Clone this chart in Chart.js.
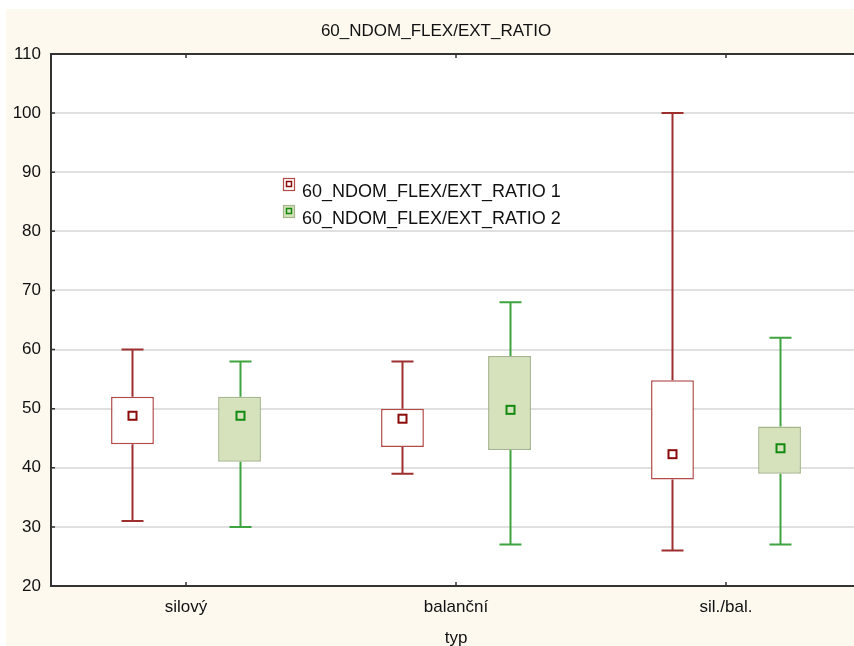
<!DOCTYPE html>
<html>
<head>
<meta charset="utf-8">
<title>60_NDOM_FLEX/EXT_RATIO</title>
<script src="https://cdn.jsdelivr.net/npm/chart.js@4.4.1/dist/chart.umd.min.js"></script>
<style>
  html, body { margin: 0; padding: 0; background: #ffffff; overflow: hidden; }
  #wrap { position: absolute; left: 0; top: 0; width: 870px; height: 649px; }
</style>
</head>
<body>
<div id="wrap"><canvas id="ChartBox" width="870" height="649"></canvas></div>
<script>
var categories = ['silový', 'balanční', 'sil./bal.'];

// series 1
var s1Min = [31, 39, 26];
var s1Q1 = [44, 43.5, 38];
var s1Q3 = [52, 50, 54.8];
var s1Max = [60, 58, 100];
var s1Mid = [48.8, 48.3, 42.3];

// series 2
var s2Min = [30, 27, 27];
var s2Q1 = [41, 43, 39];
var s2Q3 = [52, 58.9, 47];
var s2Max = [58, 68, 62];
var s2Mid = [48.8, 49.8, 43.3];

var yTicks = [20, 30, 40, 50, 60, 70, 80, 90, 100, 110];

var FONT = '"Liberation Sans", Arial, sans-serif';

function Boxes(q1, q3) {
    var out = [];
    for (var i = 0; i < q1.length; i++) {
        out.push([q1[i], q3[i]]);
    }
    return out;
}

var styles = [
    { whisker: '#9e2f2f', marker: '#8b0a0a', markerFill: '#ffffff', boxBorder: '#b24a4a', boxFill: '#ffffff' },
    { whisker: '#3fa33f', marker: '#128a12', markerFill: '#d6e2bb', boxBorder: '#a6b68c', boxFill: '#d6e2bb' }
];
var extras = [
    { min: s1Min, max: s1Max, mid: s1Mid },
    { min: s2Min, max: s2Max, mid: s2Mid }
];

var boxPlot = {
    id: 'boxPlot',
    beforeDraw: function (chart) {
        var ctx = chart.ctx;
        var a = chart.chartArea;
        ctx.save();
        ctx.fillStyle = '#ffffff';
        ctx.fillRect(0, 0, chart.width, chart.height);
        ctx.fillStyle = '#fef9ef';
        ctx.fillRect(6, 9, chart.width - 6, chart.height - 9);
        ctx.fillStyle = '#ffffff';
        ctx.fillRect(a.left, a.top, a.right - a.left, a.bottom - a.top);
        ctx.restore();
    },
    afterDatasetsDraw: function (chart) {
        var ctx = chart.ctx;
        var y = chart.scales.y;
        ctx.save();
        chart.data.datasets.forEach(function (ds, d) {
            var meta = chart.getDatasetMeta(d);
            var st = styles[d];
            var ex = extras[d];
            meta.data.forEach(function (bar, i) {
                var x = Math.round(bar.x) + 0.5;
                var yMax = y.getPixelForValue(ex.max[i]);
                var yMin = y.getPixelForValue(ex.min[i]);
                var yTop = y.getPixelForValue(ds.data[i][1]);
                var yBot = y.getPixelForValue(ds.data[i][0]);
                ctx.strokeStyle = st.whisker;
                ctx.lineWidth = 2;
                ctx.beginPath();
                ctx.moveTo(x, yMax); ctx.lineTo(x, yTop);
                ctx.moveTo(x, yBot); ctx.lineTo(x, yMin);
                ctx.moveTo(x - 11, yMax); ctx.lineTo(x + 11, yMax);
                ctx.moveTo(x - 11, yMin); ctx.lineTo(x + 11, yMin);
                ctx.stroke();

                var ym = y.getPixelForValue(ex.mid[i]);
                ctx.fillStyle = st.markerFill;
                ctx.fillRect(x - 4.5, ym - 4.5, 9, 9);
                ctx.strokeStyle = st.marker;
                ctx.lineWidth = 2;
                ctx.strokeRect(x - 4, ym - 4, 8, 8);
            });
        });

        // frame top and inside tick marks
        var a = chart.chartArea;
        ctx.strokeStyle = '#333333';
        ctx.lineWidth = 2;
        ctx.beginPath();
        ctx.moveTo(a.left - 1, a.top);
        ctx.lineTo(a.right, a.top);
        ctx.stroke();
        ctx.lineWidth = 1.5;
        ctx.beginPath();
        yTicks.forEach(function (v) {
            var py = y.getPixelForValue(v);
            ctx.moveTo(a.left, py);
            ctx.lineTo(a.left + 4, py);
        });
        var xs = chart.scales.x;
        categories.forEach(function (c, i) {
            var px = xs.getPixelForValue(i);
            ctx.moveTo(px, a.top);
            ctx.lineTo(px, a.top + 4);
            ctx.moveTo(px, a.bottom);
            ctx.lineTo(px, a.bottom - 4);
        });
        ctx.stroke();

        // title
        ctx.fillStyle = '#111111';
        ctx.font = '17px ' + FONT;
        ctx.textAlign = 'center';
        ctx.textBaseline = 'middle';
        ctx.fillText('60_NDOM_FLEX/EXT_RATIO', 436, 31);

        // legend
        ctx.font = '18px ' + FONT;
        ctx.textAlign = 'left';
        ctx.textBaseline = 'alphabetic';
        chart.data.datasets.forEach(function (ds, d) {
            var st = styles[d];
            var top = 178 + d * 27;
            ctx.fillStyle = st.boxFill;
            ctx.fillRect(283, top, 11, 12);
            ctx.strokeStyle = st.boxBorder;
            ctx.lineWidth = 1.2;
            ctx.strokeRect(283.5, top + 0.5, 11, 12);
            ctx.strokeStyle = st.marker;
            ctx.lineWidth = 1.5;
            ctx.strokeRect(286.5, top + 3.5, 5, 5);
            ctx.fillStyle = '#111111';
            ctx.fillText(ds.label, 302, top + 19);
        });
        ctx.restore();
    }
};

var ctx = document.getElementById('ChartBox').getContext('2d');

var graph = new Chart(ctx, {
    type: 'bar',
    data: {
        labels: categories,
        datasets: [
            {
                label: '60_NDOM_FLEX/EXT_RATIO 1',
                data: Boxes(s1Q1, s1Q3),
                backgroundColor: styles[0].boxFill,
                borderColor: styles[0].boxBorder,
                borderWidth: 1.5,
                borderSkipped: false
            },
            {
                label: '60_NDOM_FLEX/EXT_RATIO 2',
                data: Boxes(s2Q1, s2Q3),
                backgroundColor: styles[1].boxFill,
                borderColor: styles[1].boxBorder,
                borderWidth: 1.5,
                borderSkipped: false
            }
        ]
    },
    options: {
        responsive: false,
        animation: false,
        categoryPercentage: 0.793,
        barPercentage: 0.4,
        layout: { padding: { top: 54, right: 9, left: 0, bottom: 0 } },
        plugins: {
            legend: { display: false },
            title: { display: false },
            tooltip: { enabled: false }
        },
        scales: {
            x: {
                grid: { display: false, drawTicks: false },
                border: { display: true, color: '#333333', width: 2 },
                ticks: { color: '#111111', padding: 11, font: { family: FONT, size: 17 } },
                title: {
                    display: true,
                    text: 'typ',
                    color: '#111111',
                    padding: { top: 0, bottom: 0 },
                    font: { family: FONT, size: 17 }
                },
                afterFit: function (scale) { scale.height = 63; }
            },
            y: {
                min: 20,
                max: 110,
                ticks: { stepSize: 10, color: '#111111', padding: 10, font: { family: FONT, size: 17 } },
                grid: { color: '#e0e0e0', lineWidth: 2, drawTicks: false },
                border: { display: true, color: '#333333', width: 2 },
                afterFit: function (scale) { scale.width = 51; }
            }
        }
    },
    plugins: [boxPlot]
});
</script>
</body>
</html>
